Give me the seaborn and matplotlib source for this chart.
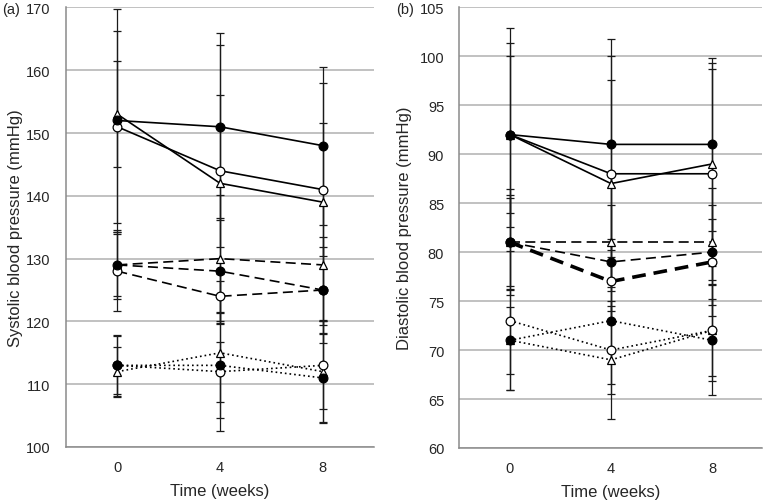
import matplotlib
matplotlib.use("Agg")
import matplotlib.pyplot as plt
import seaborn as sns
import pandas as pd

# time points (weeks)
weeks = [0, 4, 8]

# (a) systolic blood pressure, means and SDs
sys_high_filled = [152, 151, 148]
sys_high_filled_sd = [17.7, 14.9, 12.6]
sys_high_open = [151, 144, 141]
sys_high_open_sd = [15.3, 12.1, 10.6]
sys_high_tri = [153, 142, 139]
sys_high_tri_sd = [8.4, 22.0, 18.9]

sys_mid_filled = [129, 128, 125]
sys_mid_filled_sd = [5.5, 8.4, 8.5]
sys_mid_open = [128, 124, 125]
sys_mid_open_sd = [6.3, 2.5, 6.8]
sys_mid_tri = [129, 130, 129]
sys_mid_tri_sd = [5.0, 10.2, 9.5]

sys_low_filled = [113, 113, 111]
sys_low_filled_sd = [4.9, 8.4, 7.0]
sys_low_open = [113, 112, 113]
sys_low_open_sd = [4.6, 4.8, 7.0]
sys_low_tri = [112, 115, 112]
sys_low_tri_sd = [4.0, 12.5, 8.2]

# (b) diastolic blood pressure, means and SDs
dia_high_filled = [92, 91, 91]
dia_high_filled_sd = [10.9, 10.8, 8.8]
dia_high_open = [92, 88, 88]
dia_high_open_sd = [9.4, 12.0, 11.3]
dia_high_tri = [92, 87, 89]
dia_high_tri_sd = [8.0, 10.6, 9.7]

dia_mid_filled = [81, 79, 80]
dia_mid_filled_sd = [5.4, 5.8, 6.5]
dia_mid_open = [81, 77, 79]
dia_mid_open_sd = [4.8, 4.3, 4.4]
dia_mid_tri = [81, 81, 81]
dia_mid_tri_sd = [4.5, 7.0, 3.8]

dia_low_filled = [71, 73, 71]
dia_low_filled_sd = [3.4, 6.5, 4.2]
dia_low_open = [73, 70, 72]
dia_low_open_sd = [7.1, 4.5, 6.6]
dia_low_tri = [71, 69, 72]
dia_low_tri_sd = [5.1, 6.0, 4.6]

# long-form table
rows = []
series = [
    ("sys", "high", "filled", sys_high_filled, sys_high_filled_sd),
    ("sys", "high", "open", sys_high_open, sys_high_open_sd),
    ("sys", "high", "tri", sys_high_tri, sys_high_tri_sd),
    ("sys", "mid", "filled", sys_mid_filled, sys_mid_filled_sd),
    ("sys", "mid", "open", sys_mid_open, sys_mid_open_sd),
    ("sys", "mid", "tri", sys_mid_tri, sys_mid_tri_sd),
    ("sys", "low", "filled", sys_low_filled, sys_low_filled_sd),
    ("sys", "low", "open", sys_low_open, sys_low_open_sd),
    ("sys", "low", "tri", sys_low_tri, sys_low_tri_sd),
    ("dia", "high", "filled", dia_high_filled, dia_high_filled_sd),
    ("dia", "high", "open", dia_high_open, dia_high_open_sd),
    ("dia", "high", "tri", dia_high_tri, dia_high_tri_sd),
    ("dia", "mid", "filled", dia_mid_filled, dia_mid_filled_sd),
    ("dia", "mid", "open", dia_mid_open, dia_mid_open_sd),
    ("dia", "mid", "tri", dia_mid_tri, dia_mid_tri_sd),
    ("dia", "low", "filled", dia_low_filled, dia_low_filled_sd),
    ("dia", "low", "open", dia_low_open, dia_low_open_sd),
    ("dia", "low", "tri", dia_low_tri, dia_low_tri_sd),
]
for panel, group, arm, means, sds in series:
    for w, m, s in zip(weeks, means, sds):
        rows.append(dict(panel=panel, group=group, arm=arm, week=w, mean=m, sd=s))
df = pd.DataFrame(rows)

sns.set_style("white")
plt.rcParams["font.family"] = ["Liberation Sans", "DejaVu Sans"]

fs_tick = 10.5
fs_label = 12
line_styles = {"high": (0, ()), "mid": (0, (6, 3.2)), "low": (0, (1, 1.8))}
marker_styles = {
    "filled": dict(marker="o", markerfacecolor="black", markersize=6.3),
    "open": dict(marker="o", markerfacecolor="white", markersize=6.3),
    "tri": dict(marker="^", markerfacecolor="white", markersize=6.3),
}
# filled circles drawn on top
arm_z = {"tri": 3.0, "open": 3.1, "filled": 3.2}

fig = plt.figure(figsize=(7.63, 5.02), dpi=100)
ax_a = fig.add_axes([0.0865, 0.1076, 0.4037, 0.8755])
ax_b = fig.add_axes([0.6022, 0.1056, 0.3971, 0.8779])

panels = [
    (ax_a, "sys", (100, 170), range(100, 171, 10), "Systolic blood pressure (mmHg)", -0.141),
    (ax_b, "dia", (60, 105), range(60, 106, 5), "Diastolic blood pressure (mmHg)", -0.157),
]

for ax, key, ylim, yticks, ylabel, ylab_x in panels:
    sub = df[df["panel"] == key]
    # error bars behind the lines
    ax.errorbar(sub["week"], sub["mean"], yerr=sub["sd"], fmt="none",
                ecolor="#1a1a1a", elinewidth=0.9, capsize=3, capthick=0.9, zorder=2)
    for (group, arm), s in sub.groupby(["group", "arm"]):
        lw = 1.2
        ls = line_styles[group]
        if key == "dia" and group == "mid" and arm == "open":
            lw = 2.6
            ls = (0, (3.8, 2.2))
        sns.lineplot(data=s, x="week", y="mean", ax=ax, color="black", lw=lw,
                     linestyle=ls, markeredgecolor="black", markeredgewidth=0.9,
                     zorder=arm_z[arm], legend=False, **marker_styles[arm])

    ax.set_xlim(-2, 10)
    ax.set_ylim(*ylim)
    ax.set_xticks(weeks)
    ax.set_xticklabels([str(w) for w in weeks])
    ax.set_yticks(list(yticks))
    ax.yaxis.grid(True, color="#b0b0b0", lw=1.1)
    ax.xaxis.grid(False)
    ax.set_axisbelow(True)
    for side in ["top", "right"]:
        ax.spines[side].set_visible(False)
    for side in ["left", "bottom"]:
        ax.spines[side].set_color("#8a8a8a")
        ax.spines[side].set_linewidth(1.1)
    ax.tick_params(axis="y", length=0, pad=11, labelsize=fs_tick)
    ax.tick_params(axis="x", length=0, pad=9.5, labelsize=fs_tick)
    ax.set_xlabel("Time (weeks)", fontsize=fs_label)
    ax.set_ylabel(ylabel, fontsize=fs_label)
    ax.xaxis.set_label_coords(0.5, -0.082)
    ax.yaxis.set_label_coords(ylab_x, 0.5)

fig.text(2 / 763, 1 - 10 / 502, "(a)", fontsize=fs_tick, va="center", ha="left")
fig.text(396 / 763, 1 - 10 / 502, "(b)", fontsize=fs_tick, va="center", ha="left")

fig.savefig("out.png", dpi=100)
